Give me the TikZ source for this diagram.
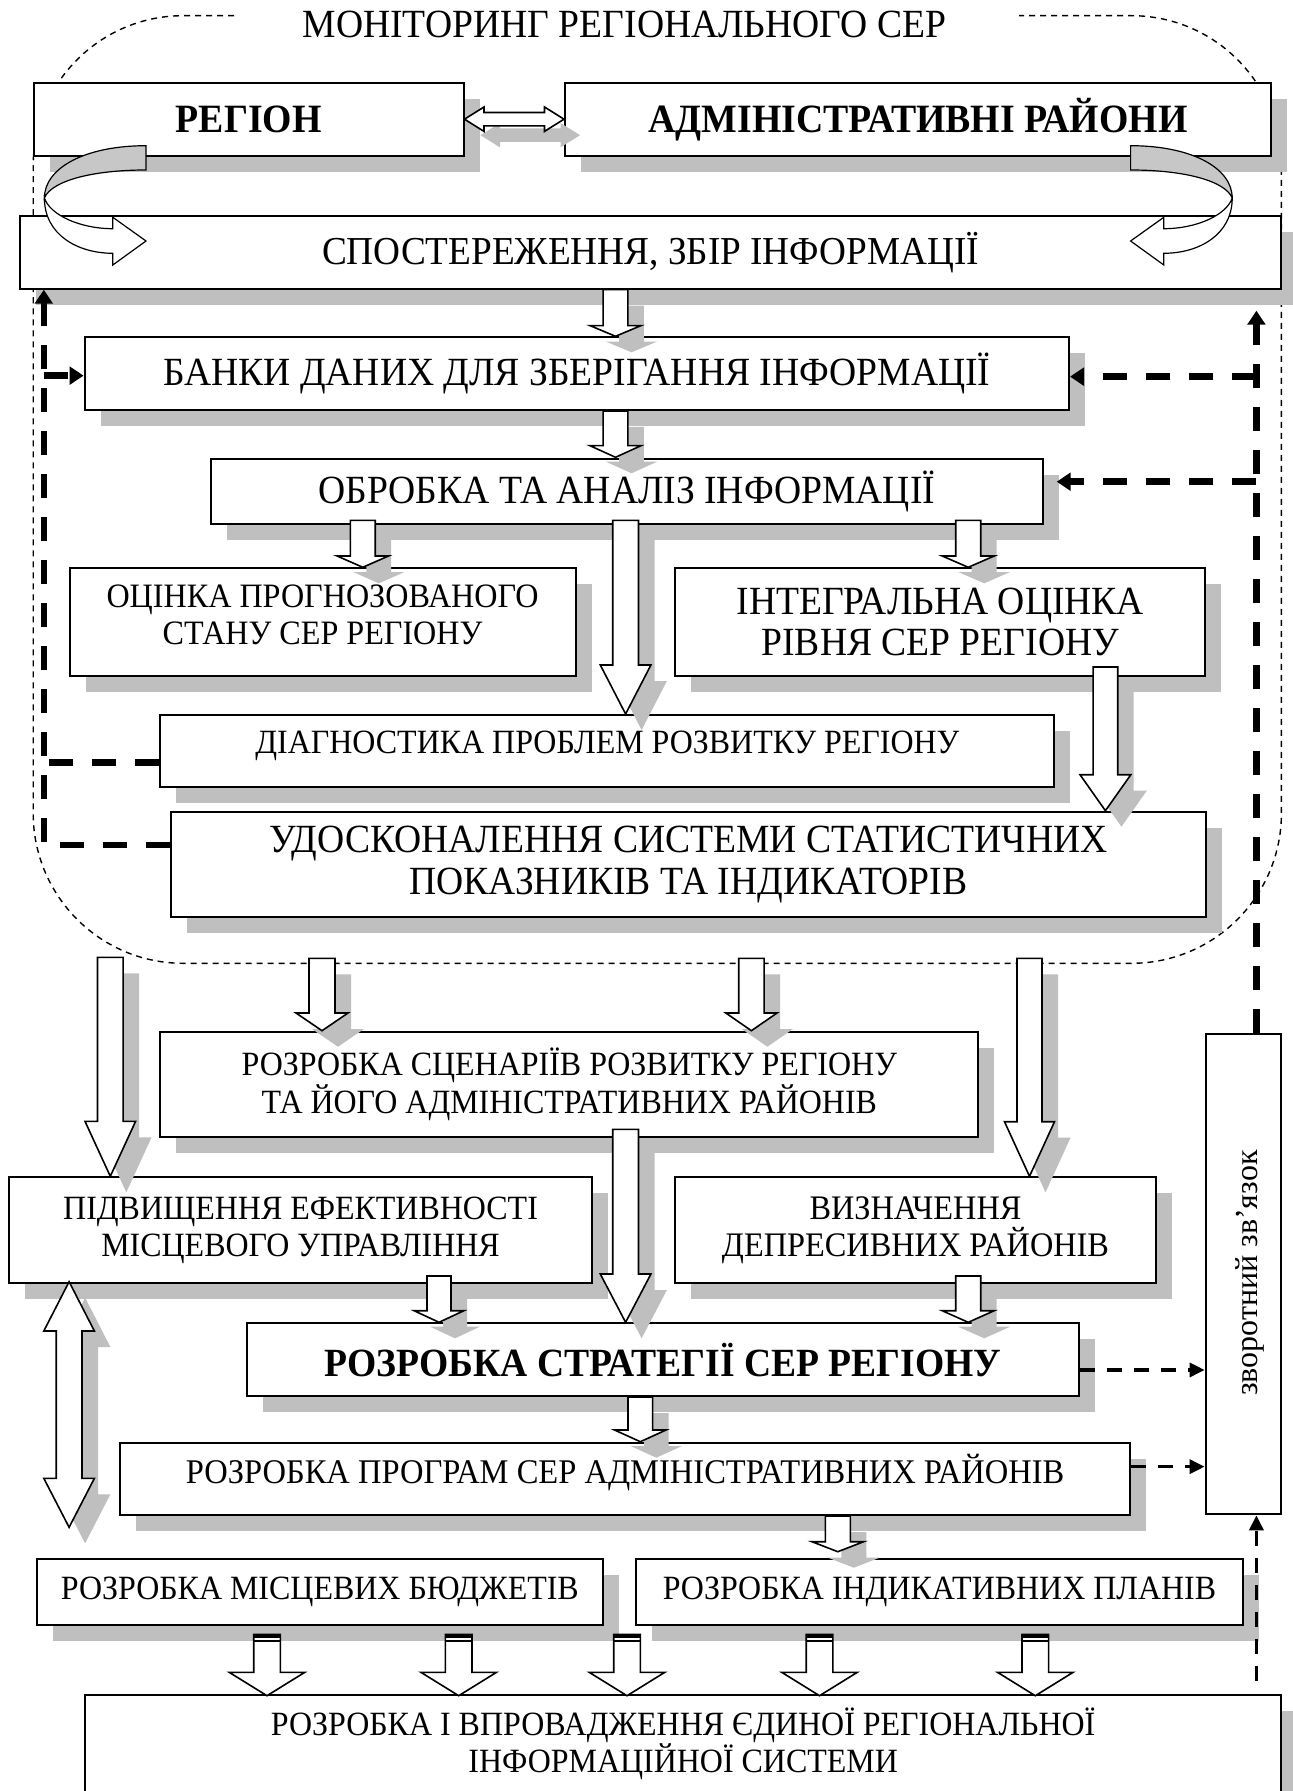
\documentclass[tikz,border=0pt]{standalone}
\usepackage{fontspec}
\setmainfont{Liberation Serif}[FakeStretch=0.94]
\newfontfamily\fbfont{Liberation Serif}
\usetikzlibrary{calc,shadows,arrows.meta}

% block arrow polygon: #1 start, #2 tip, #3 head length, #4 shaft half, #5 head half, #6 dx, #7 dy
\newcommand\blkshape[7]{($(#1)+(-#4+#6,#7)$) -- ($(#2)+(-#4+#6,-#3+#7)$) -- ($(#2)+(-#5+#6,-#3+#7)$) -- ($(#2)+(#6,#7)$) -- ($(#2)+(#5+#6,-#3+#7)$) -- ($(#2)+(#4+#6,-#3+#7)$) -- ($(#1)+(#4+#6,#7)$) -- cycle}
% #1 x, #2 from, #3 start offset, #4 to, #5 end offset, #6 head length, #7 shaft half, #8 head half, #9 shadow
\newcommand\blk[9]{%
  \path let \p1=(#2), \p2=(#1,0) in ($(\x2,\y1)+(0,#3)$) coordinate (bs);
  \path let \p1=(#4), \p2=(#1,0) in ($(\x2,\y1)+(0,#5)$) coordinate (be);
  \ifnum#9=1 \fill[shd] \blkshape{bs}{be}{#6}{#7}{#8}{16}{16};\fi
  \draw[blkline] \blkshape{bs}{be}{#6}{#7}{#8}{0}{0};
}
\newcommand\hdblshape[4]{($(#1)+(#3,#4)$) -- ($(#1)+(19.5+#3,-12.2+#4)$) -- ($(#1)+(19.5+#3,-6.7+#4)$) -- ($(#2)+(-19.5+#3,-6.7+#4)$) -- ($(#2)+(-19.5+#3,-12.2+#4)$) -- ($(#2)+(#3,#4)$) -- ($(#2)+(-19.5+#3,12.2+#4)$) -- ($(#2)+(-19.5+#3,6.7+#4)$) -- ($(#1)+(19.5+#3,6.7+#4)$) -- ($(#1)+(19.5+#3,12.2+#4)$) -- cycle}
\newcommand\vdblshape[4]{($(#1)+(#3,#4)$) -- ($(#1)+(25.3+#3,49.3+#4)$) -- ($(#1)+(12.9+#3,49.3+#4)$) -- ($(#2)+(12.9+#3,-49+#4)$) -- ($(#2)+(25.3+#3,-49+#4)$) -- ($(#2)+(#3,#4)$) -- ($(#2)+(-25.3+#3,-49+#4)$) -- ($(#2)+(-12.9+#3,-49+#4)$) -- ($(#1)+(-12.9+#3,49.3+#4)$) -- ($(#1)+(-25.3+#3,49.3+#4)$) -- cycle}
\newcommand\curvedarrow{%
  \filldraw[fill=black!22, line width=0.6pt] (146,145.7) .. controls (85,145.7) and (44.4,168) .. (44.4,198) .. controls (52,180) and (95,170) .. (146,170) -- cycle;
  \filldraw[fill=white, line width=0.6pt] (44.4,198) .. controls (44.4,235) and (78,253.3) .. (112.8,253.3) -- (112.8,265) -- (146,241) -- (112.8,217.3) -- (112.8,228.7) .. controls (80,228.7) and (50,215) .. (44.4,198) -- cycle;
}

\begin{document}
\begin{tikzpicture}[x=0.5pt,y=-0.5pt,
  box/.style={draw, line width=1pt, fill=white, inner sep=0pt, align=center,
    general shadow={fill=black!25, shadow xshift=8pt, shadow yshift=-8pt}},
  plainbox/.style={draw, line width=1pt, fill=white, inner sep=0pt},
  shd/.style={fill=black!25},
  blkline/.style={draw=black, fill=white, line width=0.8pt, line join=miter},
  fbthick/.style={line width=3.3pt, dash pattern=on 12pt off 9.5pt},
  fbmed/.style={line width=1.7pt, dash pattern=on 7.5pt off 6pt},
  outl/.style={line width=0.7pt, dash pattern=on 3pt off 2.5pt},
  tthick/.style={-{Triangle[length=7pt,width=8.8pt]}},
  tmed/.style={-{Triangle[length=7.5pt,width=7pt]}},
  big/.style={font=\fontsize{20}{23}\selectfont},
  small/.style={font=\fontsize{17}{20}\selectfont},
]
\useasboundingbox (0,0) rectangle (1293,1791);
\fill[white] (0,0) rectangle (1293,1791);

% monitoring outline
\draw[outl, rounded corners=75pt] (234,15.7) -- (33.2,15.7) -- (33.2,963.3) -- (1281.4,963.3) -- (1281.4,15.7) -- (1019,15.7);
\node[inner sep=0pt, big] (title) at (624.5,24.5) {МОНІТОРИНГ РЕГІОНАЛЬНОГО СЕР};
\coordinate (monb) at (650,963.3);

% boxes
\node[box, minimum width=214.75pt, minimum height=36.5pt, font=\fontsize{20.1}{23}\selectfont\bfseries] (reg) at (248.75,119.2) {РЕГІОН};
\node[box, minimum width=353pt, minimum height=36.5pt, font=\fontsize{20.1}{23}\selectfont\bfseries] (adm) at (918,119.2) {АДМІНІСТРАТИВНІ РАЙОНИ};
\node[box, minimum width=630.95pt, minimum height=36.35pt, font=\fontsize{19.8}{23}\selectfont] (obs) at (650.45,252.35) {СПОСТЕРЕЖЕННЯ, ЗБІР ІНФОРМАЦІЇ};
\node[box, minimum width=492.2pt, minimum height=36.35pt, big] (bank) at (576.8,373.65) {БАНКИ ДАНИХ ДЛЯ ЗБЕРІГАННЯ ІНФОРМАЦІЇ};
\node[box, minimum width=416.3pt, minimum height=32.5pt, big] (proc) at (626.9,491.8) {ОБРОБКА ТА АНАЛІЗ ІНФОРМАЦІЇ};
\node[box, minimum width=252.9pt, minimum height=53.85pt, font=\fontsize{17.1}{18.4}\selectfont] (fore) at (322.6,622.15) {\raisebox{1.7pt}[\height][\depth]{\begin{tabular}{@{}c@{}}ОЦІНКА ПРОГНОЗОВАНОГО\\СТАНУ СЕР РЕГІОНУ\end{tabular}}};
\node[box, minimum width=264.9pt, minimum height=53.85pt, font=\fontsize{20}{20.5}\selectfont] (integ) at (940.3,622.15) {ІНТЕГРАЛЬНА ОЦІНКА\\РІВНЯ СЕР РЕГІОНУ};
\node[box, minimum width=447pt, minimum height=36.15pt, small] (diag) at (607.4,751.15) {\raisebox{2.5pt}[\height][\depth]{ДІАГНОСТИКА ПРОБЛЕМ РОЗВИТКУ РЕГІОНУ}};
\node[box, minimum width=517.2pt, minimum height=52.5pt, font=\fontsize{20}{21}\selectfont] (impr) at (688.4,864.2) {УДОСКОНАЛЕННЯ СИСТЕМИ СТАТИСТИЧНИХ\\ПОКАЗНИКІВ ТА ІНДИКАТОРІВ};
\node[box, minimum width=408.9pt, minimum height=52.5pt, font=\fontsize{17}{19.4}\selectfont] (scen) at (569.3,1084.2) {РОЗРОБКА СЦЕНАРІЇВ РОЗВИТКУ РЕГІОНУ\\ТА ЙОГО АДМІНІСТРАТИВНИХ РАЙОНІВ};
\node[box, minimum width=291.45pt, minimum height=52.7pt, font=\fontsize{17}{18.6}\selectfont] (eff) at (300.55,1230) {ПІДВИЩЕННЯ ЕФЕКТИВНОСТІ\\МІСЦЕВОГО УПРАВЛІННЯ};
\node[box, minimum width=240.1pt, minimum height=52.7pt, font=\fontsize{17.2}{18.6}\selectfont] (depr) at (915.5,1230) {ВИЗНАЧЕННЯ\\ДЕПРЕСИВНИХ РАЙОНІВ};
\node[box, minimum width=416.35pt, minimum height=36.35pt, font=\fontsize{20}{23}\selectfont\bfseries] (strat) at (663.05,1359.65) {РОЗРОБКА СТРАТЕГІЇ СЕР РЕГІОНУ};
\node[box, minimum width=505pt, minimum height=36.15pt, font=\fontsize{17.3}{20}\selectfont] (prog) at (625.2,1478.85) {\raisebox{3.2pt}[\height][\depth]{РОЗРОБКА ПРОГРАМ СЕР АДМІНІСТРАТИВНИХ РАЙОНІВ}};
\node[box, minimum width=283.35pt, minimum height=32.85pt, small] (budg) at (319.85,1592.15) {РОЗРОБКА МІСЦЕВИХ БЮДЖЕТІВ};
\node[box, minimum width=303.15pt, minimum height=32.85pt, small] (plans) at (939.55,1592.15) {РОЗРОБКА ІНДИКАТИВНИХ ПЛАНІВ};
\node[box, minimum width=598.2pt, minimum height=49pt, font=\fontsize{17}{18.4}\selectfont] (info) at (683.2,1744) {РОЗРОБКА І ВПРОВАДЖЕННЯ ЄДИНОЇ РЕГІОНАЛЬНОЇ\\ІНФОРМАЦІЙНОЇ СИСТЕМИ};
\node[plainbox, minimum width=37.9pt, minimum height=240.15pt] (fb) at (1243.5,1274.15) {};
\node[rotate=90, inner sep=0pt, font=\fbfont\fontsize{16}{18}\selectfont] (fbt) at ($(fb.center)+(6.5,-1)$) {зворотний зв’язок};

% curved arrows
\curvedarrow
\begin{scope}[xshift=638.3pt, xscale=-1]
\curvedarrow
\end{scope}

% double arrows
\coordinate (ha) at (reg.east);
\coordinate (hb) at (adm.west);
\fill[shd] \hdblshape{ha}{hb}{16}{16};
\draw[blkline] \hdblshape{ha}{hb}{0}{0};
\coordinate (va) at ($(eff.south west)+(61,-2)$);
\coordinate (vb) at ($(budg.north west)+(33.6,-31)$);
\fill[shd] \vdblshape{va}{vb}{16}{16};
\draw[blkline] \vdblshape{va}{vb}{0}{0};

% block arrows
\blk{615.5}{obs.south}{0}{bank.north}{0}{10.7}{12.4}{25.5}{1}
\blk{615.5}{bank.south}{0}{proc.north}{-1}{11.6}{12.4}{25.5}{1}
\blk{362.8}{proc.south}{-5}{fore.north}{0}{11.3}{12.4}{25.7}{1}
\blk{625.6}{proc.south}{-5}{diag.north}{0}{49}{12.9}{25.3}{1}
\blk{968.2}{proc.south}{-5}{integ.north}{0}{11.3}{12.5}{26}{1}
\blk{1105.4}{integ.south}{-10}{impr.north}{0}{36}{12.3}{25.4}{1}
\blk{110.3}{monb}{-6}{eff.north}{0}{55}{12.8}{25.3}{1}
\blk{322}{monb}{-5}{scen.north}{0}{17.7}{13}{26}{1}
\blk{751.4}{monb}{-5}{scen.north}{0}{17.7}{12.7}{25.6}{1}
\blk{1029.5}{monb}{-5}{depr.north}{0}{54.6}{12.5}{25}{1}
\blk{625.6}{scen.south}{-8.4}{strat.north}{0}{48.3}{12.9}{25.3}{1}
\blk{439}{eff.south}{-7.7}{strat.north}{0}{11.6}{12}{24.9}{1}
\blk{968.2}{depr.south}{-7.7}{strat.north}{0}{11.6}{12.5}{26}{1}
\blk{640.3}{strat.south}{0}{prog.north}{0}{11.7}{12.3}{25.7}{1}
\blk{837.8}{prog.south}{0}{plans.north}{-6.6}{10}{12.5}{25.8}{1}
\foreach \xx in {267,458.7,627,819.5,1035.3}{
  \blk{\xx}{budg.south}{8.3}{info.north}{1.7}{23.4}{13.3}{37.8}{0}
  \fill ($(bs)+(-13.3,0)$) rectangle ($(bs)+(13.3,3.6)$);
  \draw[line width=0.8pt] ($(bs)+(-13.3,6.9)$) -- ($(bs)+(13.3,6.9)$);
}

% feedback connectors
\coordinate (rv) at ($(fb.north)+(12.9,0)$);
\coordinate (lv) at ($(obs.south west)+(25.3,0)$);
\draw[fbthick,tthick] (fb.north -| rv) -- ($(obs.south -| rv)+(0,21)$);
\draw[fbthick,tthick] ($(bank.east -| rv)+(0,3)$) -- ($(bank.east)+(0,3)$);
\draw[fbthick,tthick] ($(proc.east -| rv)+(0,-10.1)$) -- ($(proc.east)+(12.5,-10.1)$);
\draw[fbthick,tthick] ($(impr.west)+(0,-19.2)$) -| (lv);
\draw[fbthick] ($(diag.west)+(0,11.5)$) -- ($(diag.west -| lv)+(0,11.5)$);
\draw[fbthick,tthick] ($(bank.west -| lv)+(0,2)$) -- ($(bank.west)+(0,2)$);
\draw[fbmed,tmed] ($(strat.east)+(0,10.3)$) -- ($(strat.east -| fb.west)+(0,10.3)$);
\draw[fbmed,tmed] ($(prog.east)+(0,-12.2)$) -- ($(prog.east -| fb.west)+(0,-12.2)$);
\draw[fbmed,tmed] ($(info.north -| rv)+(0,-13.3)$) -- (fb.south -| rv);
\end{tikzpicture}
\end{document}
